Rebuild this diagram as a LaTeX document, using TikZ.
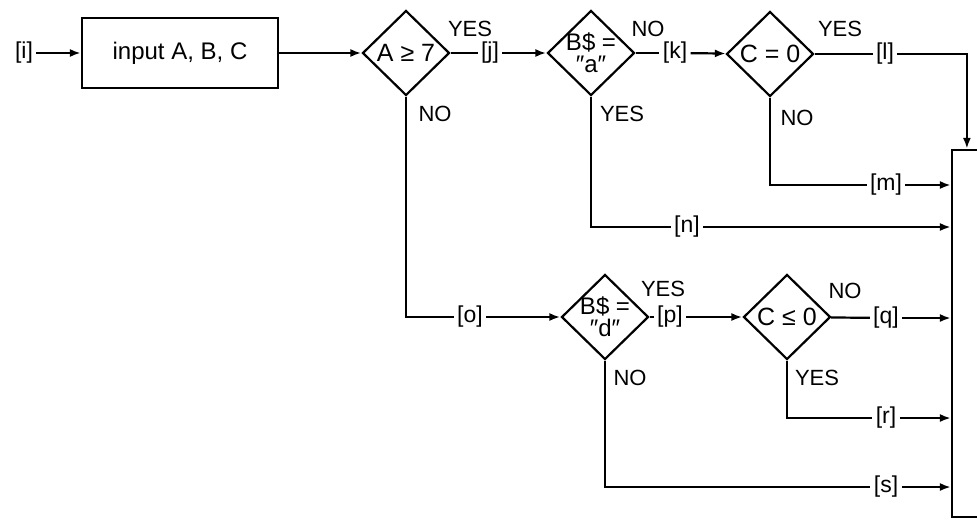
\documentclass[tikz,border=0pt]{standalone}
\usepackage{fontspec}
\setmainfont{Liberation Sans}
\usetikzlibrary{shapes.geometric, arrows.meta}

\begin{document}
\begin{tikzpicture}[x=0.5pt, y=-0.5pt,
  box/.style={rectangle, draw, line width=1.1pt, minimum width=98pt, minimum height=35pt, font=\fontsize{12}{14}\selectfont},
  test/.style={diamond, draw, line width=1.1pt, minimum width=43.5pt, minimum height=42.5pt, inner sep=-2.5pt, align=center, font=\fontsize{12.5}{11}\selectfont},
  tag/.style={inner sep=1.5pt, font=\fontsize{11.5}{13}\selectfont},
  answer/.style={inner sep=0pt, font=\fontsize{11}{12}\selectfont},
  arrow/.style={-{Latex[length=5.5pt, width=4pt]}, line width=1.1pt},
  wire/.style={line width=1.1pt}
]
\clip (0,0) rectangle (977,520);

% first row
\node[tag] (i) at (24,53) {[i]};
\node[box] (inp) at (180,53) {input A, B, C};
\node[test] (d1) at (406,53) {A ≥ 7};
\node[tag] (j) at (490,53) {[j]};
\node[test, font=\fontsize{12}{11}\selectfont] (d2) at (591,53) {B\$ =\\″a″};
\node[tag] (k) at (675,53) {[k]};
\node[test] (d3) at (770,54) {C = 0};
\node[tag] (l) at (885,54) {[l]};

% output box on the right
\node[rectangle, draw, line width=1.1pt, minimum width=29pt, minimum height=183.5pt] (out) at (981,333.5) {};

% side exits
\node[tag] (m) at (886,185) {[m]};
\node[tag] (n) at (687,227) {[n]};

% second row
\node[tag] (o) at (470,317) {[o]};
\node[test, font=\fontsize{12}{11}\selectfont] (d4) at (605,317) {B\$ =\\″d″};
\node[tag] (p) at (670,317) {[p]};
\node[test] (d5) at (787,317) {C ≤ 0};
\node[tag] (q) at (886,318) {[q]};
\node[tag] (r) at (886,418) {[r]};
\node[tag] (s) at (886,487) {[s]};

% answers
\node[answer] (y1) at (470,29) {YES};
\node[answer] (n1) at (435,114) {NO};
\node[answer] (n2) at (648,29) {NO};
\node[answer] (y2) at (622,114) {YES};
\node[answer] (y3) at (840,29) {YES};
\node[answer] (n3) at (797,118) {NO};
\node[answer] (y4) at (663,289) {YES};
\node[answer] (n4) at (630,378) {NO};
\node[answer] (n5) at (845,291) {NO};
\node[answer] (y5) at (817,378) {YES};

\draw[arrow] (i) -- (inp);
\draw[arrow] (inp) -- (d1);
\draw[wire] (d1) -- (j);
\draw[arrow] (j) -- (d2);
\draw[wire] (d2) -- (k);
\draw[arrow] (k) -- (d3);
\draw[wire] (d3) -- (l);
\draw[arrow] (l) -| ([xshift=8pt]out.north west);
\draw[wire] (d3.south) |- (m);
\draw[arrow] (m) -- (out.west |- m);
\draw[wire] (d2.south) |- (n);
\draw[arrow] (n) -- (out.west |- n);
\draw[wire] (d1.south) |- (o);
\draw[arrow] (o) -- (d4);
\draw[wire] (d4) -- (p);
\draw[arrow] (p) -- (d5);
\draw[wire] (d5) -- (q);
\draw[arrow] (q) -- (out.west |- q);
\draw[wire] (d5.south) |- (r);
\draw[arrow] (r) -- (out.west |- r);
\draw[wire] (d4.south) |- (s);
\draw[arrow] (s) -- (out.west |- s);
\end{tikzpicture}
\end{document}
